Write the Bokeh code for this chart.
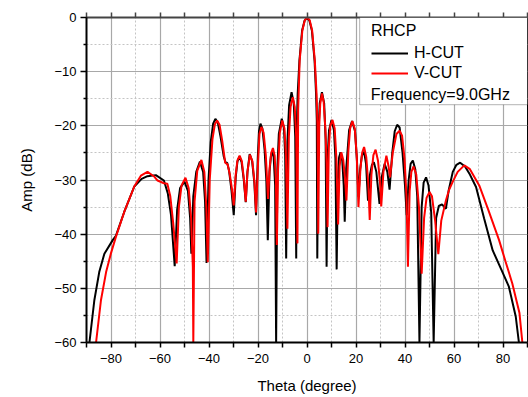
from bokeh.plotting import figure
from bokeh.models import (Range1d, FixedTicker, LinearAxis, Legend, LegendItem,
                          BoxAnnotation, Label)
from bokeh.embed import file_html
from bokeh.resources import INLINE

# ---------------- data ----------------
theta_h = [-88.8, -86.8, -84.8, -82.7, -79.3, -78.0, -74.6, -70.5, -67.5, -65.1,
           -61.7, -58.4, -56.8, -55.5, -54.0,
           -53.0, -51.8, -50.0, -48.6, -47.7, -47.2,
           -46.4, -45.2, -43.7, -42.4, -41.6, -41.0,
           -40.2, -39.3, -38.3, -37.4, -36.4, -35.3, -34.0, -33.2, -32.6, -31.8, -30.8, -29.9,
           -29.1, -28.4, -27.6, -26.7, -25.8, -25.0,
           -24.3, -23.4, -22.4, -21.5, -20.8,
           -20.1, -19.6, -19.0, -18.2, -17.3, -16.6, -16.0,
           -15.3, -14.7, -14.2, -13.6, -13.0, -12.6,
           -12.1, -11.5, -10.3, -9.4, -8.9, -8.5,
           -8.0, -7.3, -6.3, -5.4, -4.8, -4.4,
           -4.1, -3.8, -3.1, -2.0, -1.0, 0.0, 1.0, 2.0, 3.1, 3.7, 4.0, 4.2,
           4.6, 5.2, 6.1, 7.0, 7.6, 8.0,
           8.4, 9.0, 10.0, 11.0, 11.6, 12.1,
           12.6, 13.1, 13.7, 14.4, 15.0, 15.4,
           16.0, 17.2, 18.4, 19.6, 20.4, 21.0,
           21.7, 22.4, 23.3, 24.1, 24.9,
           25.7, 26.5, 27.3, 28.3, 29.6,
           30.5, 31.7, 32.8, 33.7,
           34.8, 35.8, 36.8, 37.8, 39.0, 40.0, 40.7,
           41.5, 42.3, 43.2, 44.2, 45.0, 45.9,
           46.8, 47.6, 48.6, 49.6, 50.7, 51.7,
           52.7, 53.8, 55.1, 56.7, 57.8, 59.5, 61.0, 62.5, 64.5, 66.5, 69.0,
           72.3, 75.8, 79.1, 82.4, 85.2, 86.5]
amp_h = [-60.0, -52.2, -47.0, -43.6, -41.1, -40.3, -35.9, -31.2, -29.8, -29.3,
         -29.1, -30.1, -32.5, -36.5, -45.9,
         -35.5, -31.5, -30.3, -32.0, -37.0, -43.6,
         -33.0, -28.5, -26.6, -28.5, -34.0, -45.3,
         -30.0, -23.0, -19.6, -18.7, -19.4, -22.0, -25.6, -26.8, -26.8, -28.3, -32.0, -36.5,
         -29.5, -26.6, -25.7, -26.7, -30.0, -34.1,
         -28.5, -25.2, -26.5, -30.5, -36.5,
         -26.0, -21.0, -19.6, -20.5, -24.5, -30.0, -41.1,
         -28.5, -25.5, -24.8, -25.8, -31.0, -60.0,
         -28.0, -21.5, -18.7, -20.5, -25.5, -44.5,
         -23.0, -16.2, -13.8, -15.8, -22.0, -44.5,
         -19.0, -14.1, -8.0, -2.4, -0.6, 0.0, -0.6, -2.4, -8.0, -14.1, -19.0, -44.5,
         -22.0, -15.8, -13.8, -15.8, -22.5, -46.0,
         -26.0, -20.8, -18.9, -20.8, -26.0, -46.5,
         -30.0, -25.8, -24.9, -26.5, -31.0, -37.7,
         -28.0, -20.8, -19.1, -21.0, -26.5, -33.1,
         -28.0, -25.5, -24.8, -27.0, -33.8,
         -29.0, -27.2, -26.7, -28.5, -34.4,
         -29.5, -27.0, -28.5, -31.8,
         -25.0, -21.0, -19.8, -20.3, -25.0, -31.0, -36.5,
         -30.0, -27.0, -26.4, -28.0, -33.0, -60.0,
         -35.0, -30.5, -29.5, -31.0, -36.0, -60.0,
         -37.0, -34.8, -34.5, -35.3, -32.0, -28.5, -27.2, -26.8, -27.5, -29.0, -31.3,
         -37.1, -43.0, -46.3, -49.7, -55.2, -60.0]

theta_v = [-86.1, -84.1, -82.0, -80.0, -78.0, -74.6, -70.5, -67.8, -65.1, -62.5,
           -61.0, -58.4, -57.0, -55.8, -54.6, -53.2,
           -52.3, -51.2, -49.6, -48.3, -47.3, -46.6, -46.4,
           -45.9, -44.8, -43.1, -41.9, -41.1, -40.5,
           -39.7, -38.6, -37.6, -36.7, -35.7, -34.6, -33.4, -32.4, -31.5, -30.6, -29.9,
           -29.1, -28.4, -27.5, -26.6, -25.7, -25.0,
           -24.3, -23.3, -22.3, -21.4, -20.8,
           -20.0, -19.4, -18.6, -17.7, -16.8, -15.9,
           -15.2, -14.6, -13.9, -13.2, -12.7, -12.3,
           -11.8, -11.1, -10.1, -9.2, -8.6, -8.0,
           -7.4, -6.7, -5.8, -5.0, -4.4, -3.9,
           -3.6, -3.0, -1.9, -0.9, 0.1, 1.1, 2.1, 3.2, 3.9, 4.3, 4.6,
           5.0, 5.4, 6.1, 6.8, 7.5, 8.0, 8.4,
           8.9, 9.5, 10.4, 11.3, 12.0, 12.7,
           13.3, 14.0, 14.8, 15.5, 16.1,
           16.9, 17.6, 18.5, 19.5, 20.3, 21.0,
           21.8, 22.5, 23.3, 24.2, 25.0, 25.6,
           26.3, 27.1, 28.0, 29.0, 29.8, 30.3,
           31.2, 32.4, 33.3, 33.9,
           35.0, 36.5, 37.8, 38.8, 39.8, 40.6, 41.2,
           41.9, 42.6, 43.5, 44.6, 45.7, 46.8,
           47.8, 48.8, 50.0, 51.0, 52.3, 53.6,
           54.8, 56.7, 58.0, 59.5, 61.5, 64.2, 66.5, 70.3, 74.0, 78.4, 81.0, 83.8, 86.7, 87.9]
amp_v = [-60.0, -52.2, -47.0, -43.5, -40.5, -35.9, -31.2, -29.2, -28.5, -29.3,
         -30.1, -30.6, -30.7, -33.0, -38.0, -45.4,
         -35.0, -31.0, -29.6, -31.5, -37.0, -46.0, -60.0,
         -34.0, -28.3, -26.3, -28.5, -35.0, -45.2,
         -30.0, -22.5, -19.7, -19.0, -19.8, -22.8, -26.8, -27.1, -29.0, -31.8, -34.7,
         -29.0, -26.4, -25.5, -26.5, -30.0, -34.0,
         -28.5, -25.3, -26.5, -30.5, -36.0,
         -27.0, -21.5, -20.2, -21.3, -25.5, -33.5,
         -27.5, -25.0, -24.1, -25.5, -30.0, -42.0,
         -28.0, -21.3, -19.0, -20.5, -25.5, -39.0,
         -22.0, -16.5, -14.7, -16.5, -22.0, -41.7,
         -17.0, -8.0, -2.4, -0.5, 0.0, -0.5, -2.4, -8.0, -14.1, -20.0, -39.9,
         -20.0, -16.0, -14.0, -15.6, -20.5, -27.0, -38.7,
         -24.0, -20.0, -18.9, -20.5, -26.0, -38.2,
         -27.5, -24.9, -26.3, -29.5, -33.8,
         -24.5, -20.5, -19.1, -20.5, -25.5, -35.0,
         -28.0, -25.0, -23.9, -25.8, -30.5, -37.4,
         -29.0, -25.4, -24.4, -26.5, -30.5, -34.9,
         -28.5, -25.5, -27.5, -29.5,
         -25.0, -21.5, -20.9, -21.8, -26.0, -33.0, -46.0,
         -32.0, -28.5, -27.5, -29.0, -35.0, -47.3,
         -37.0, -33.3, -32.2, -33.0, -37.5, -43.7,
         -37.5, -33.8, -31.8, -30.3, -28.5, -27.3, -28.0, -31.0, -35.5, -41.1, -45.0, -49.1, -54.5, -60.0]

x_major = [-80, -60, -40, -20, 0, 20, 40, 60, 80]
x_minor = [-90, -70, -50, -30, -10, 10, 30, 50, 70, 90]
x_top_ticks = [-90, -80, -70, -60, -50, -40, -30, -20, -10, 0, 10, 20, 30, 40, 50, 60, 70, 80, 90]
y_major = [-60, -50, -40, -30, -20, -10, 0]
y_minor = [-55, -45, -35, -25, -15, -5]

FONT = "Liberation Sans"

p = figure(width=528, height=397, output_backend="svg", toolbar_location=None,
           x_range=Range1d(-90, 90), y_range=Range1d(-60, 0),
           min_border_left=86, min_border_right=1, min_border_top=17, min_border_bottom=55)
p.background_fill_color = "white"
p.border_fill_color = "white"
p.outline_line_color = "black"
p.outline_line_width = 1

p.xaxis.ticker = FixedTicker(ticks=x_major, minor_ticks=x_minor)
p.yaxis.ticker = FixedTicker(ticks=y_major, minor_ticks=y_minor)

for ax in (p.xaxis[0], p.yaxis[0]):
    ax.axis_line_color = "black"
    ax.axis_line_width = 2
    ax.major_tick_line_color = "black"
    ax.minor_tick_line_color = "black"
    ax.major_tick_line_width = 1.5
    ax.minor_tick_line_width = 1.5
    ax.major_tick_in = 0
    ax.minor_tick_in = 0
    ax.major_label_text_font = FONT
    ax.major_label_text_font_size = "13px"
    ax.major_label_text_color = "black"
    ax.axis_label_text_font = FONT
    ax.axis_label_text_font_size = "15px"
    ax.axis_label_text_font_style = "normal"
    ax.axis_label_text_color = "black"

p.xaxis.axis_label = "Theta (degree)"
p.yaxis.axis_label = "Amp (dB)"
p.xaxis.major_tick_out = 5
p.xaxis.minor_tick_out = 5
p.yaxis.major_tick_out = 6
p.yaxis.minor_tick_out = 3
p.xaxis.major_label_standoff = 6
p.yaxis.major_label_standoff = 4
p.xaxis.axis_label_standoff = 11
p.yaxis.axis_label_standoff = 16

# top axis: only unlabeled (minor) ticks
top = LinearAxis(ticker=FixedTicker(ticks=[], minor_ticks=x_top_ticks))
top.axis_line_color = "#444444"
top.axis_line_width = 2
top.minor_tick_line_color = "#444444"
top.minor_tick_line_width = 1.5
top.minor_tick_in = 0
top.minor_tick_out = 5
top.major_label_standoff = 0
p.add_layout(top, "above")

p.xgrid.grid_line_color = "#a8a8a8"
p.ygrid.grid_line_color = "#a8a8a8"
p.xgrid.grid_line_width = 1.2
p.ygrid.grid_line_width = 1.2
p.xgrid.minor_grid_line_color = "#c4c4c4"
p.ygrid.minor_grid_line_color = "#c4c4c4"
p.xgrid.minor_grid_line_dash = "2 2"
p.ygrid.minor_grid_line_dash = "2 2"

rh = p.line(theta_h, amp_h, line_color="black", line_width=2)
rv = p.line(theta_v, amp_v, line_color="#ff0000", line_width=2)

box = BoxAnnotation(left=21.5, right=90, top=0, bottom=-16.1,
                    fill_color="white", fill_alpha=1.0,
                    line_color="black", line_width=1)
p.add_layout(box)

legend = Legend(items=[LegendItem(label="H-CUT", renderers=[rh]),
                       LegendItem(label="V-CUT", renderers=[rv])],
                location=(285, 259), title="RHCP",
                title_text_font=FONT, title_text_font_size="16px",
                title_text_font_style="normal", title_text_color="black",
                label_text_font=FONT, label_text_font_size="16px", label_text_color="black",
                glyph_width=37, glyph_height=20, label_height=20, label_standoff=6,
                spacing=0, padding=0, margin=0, title_standoff=3,
                border_line_alpha=0, background_fill_alpha=0)
p.add_layout(legend)

freq = Label(x=26.0, y=-14.2, text="Frequency=9.0GHz", text_font=FONT,
             text_font_size="16px", text_color="black", text_baseline="middle")
p.add_layout(freq)

open("out.html", "w").write(file_html(p, INLINE))
